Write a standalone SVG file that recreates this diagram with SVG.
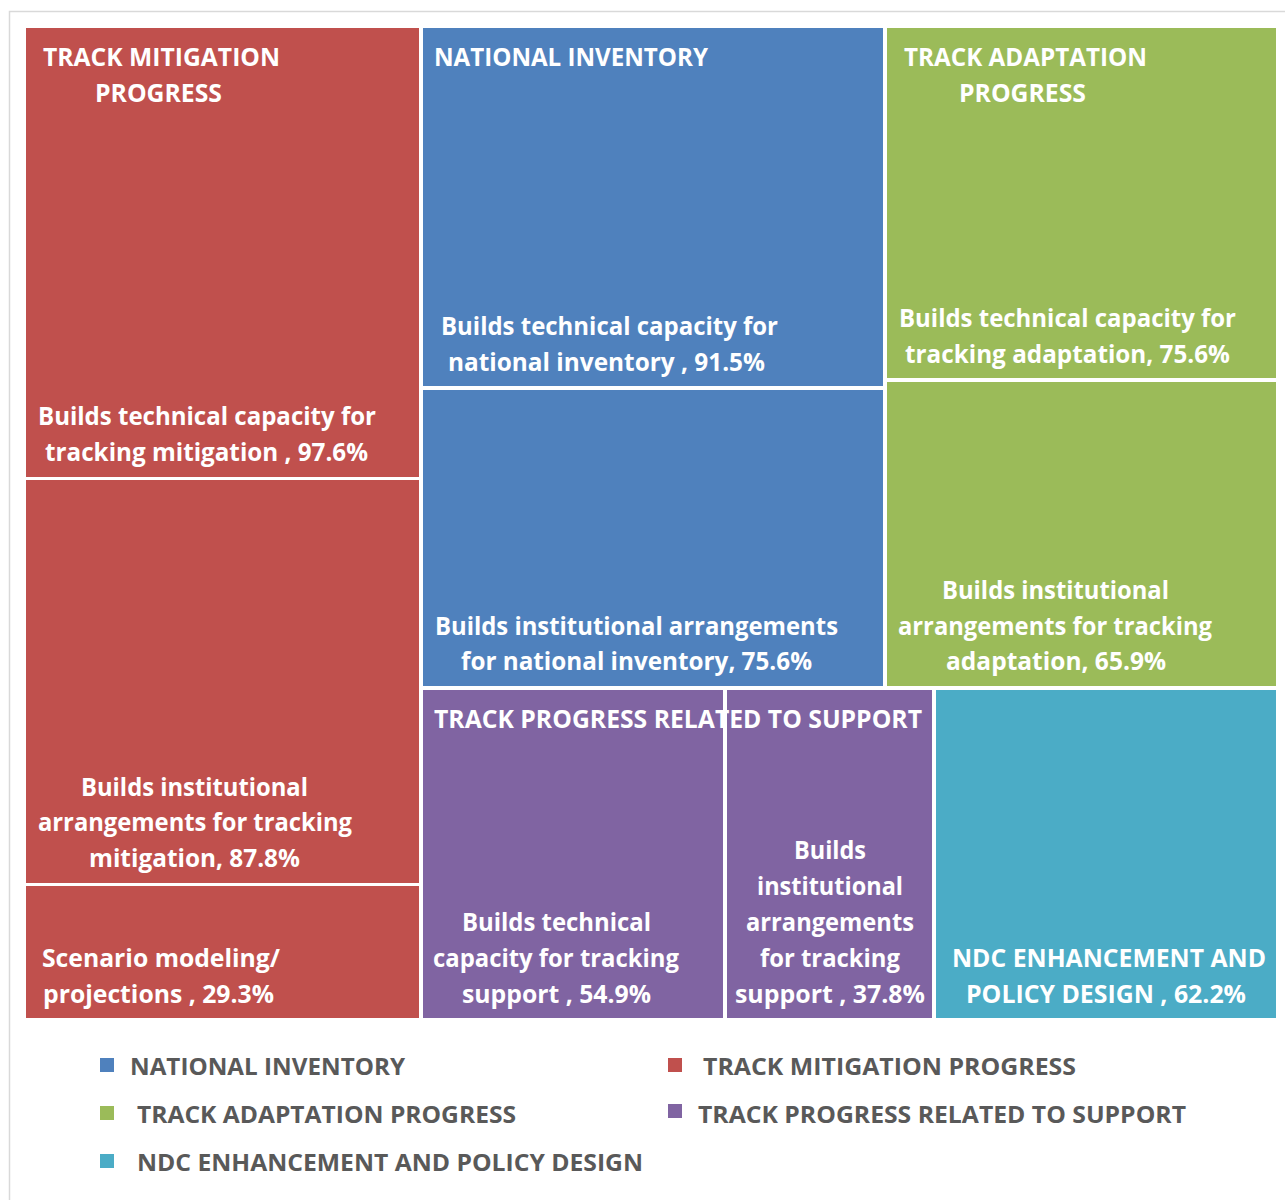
<svg xmlns="http://www.w3.org/2000/svg" width="1285" height="1200" viewBox="0 0 1285 1200">
<style>
.c{font-family:"Open Sans","Liberation Sans",sans-serif;font-weight:700;font-size:25px;fill:#ffffff}
.l{font-family:"Open Sans","Liberation Sans",sans-serif;font-weight:700;font-size:23px;fill:#595959}
.red{fill:#C0504D}.blue{fill:#4F81BD}.green{fill:#9BBB59}.purple{fill:#8064A2}.teal{fill:#4BACC6}
</style>
<rect width="1285" height="1200" fill="#ffffff"/>
<path d="M9.5 1200 V11.5 H1285" fill="none" stroke="#d9d9d9" stroke-width="1.5"/>

<g id="mit-tech">
<rect class="red" x="26" y="28" width="393" height="449"/>
<text class="c" x="43" y="66" textLength="237" lengthAdjust="spacingAndGlyphs">TRACK MITIGATION</text>
<text class="c" x="95" y="102" textLength="127" lengthAdjust="spacingAndGlyphs">PROGRESS</text>
<text class="c" x="38" y="425" textLength="338" lengthAdjust="spacingAndGlyphs">Builds technical capacity for</text>
<text class="c" x="45" y="461" textLength="323" lengthAdjust="spacingAndGlyphs">tracking mitigation , 97.6%</text>
</g>
<g id="mit-inst">
<rect class="red" x="26" y="480" width="393" height="403"/>
<text class="c" x="81" y="796" textLength="227" lengthAdjust="spacingAndGlyphs">Builds institutional</text>
<text class="c" x="38" y="831" textLength="314" lengthAdjust="spacingAndGlyphs">arrangements for tracking</text>
<text class="c" x="89" y="867" textLength="211" lengthAdjust="spacingAndGlyphs">mitigation, 87.8%</text>
</g>
<g id="mit-scen">
<rect class="red" x="26" y="886" width="393" height="132"/>
<text class="c" x="42" y="967" textLength="238" lengthAdjust="spacingAndGlyphs">Scenario modeling/</text>
<text class="c" x="43" y="1003" textLength="231" lengthAdjust="spacingAndGlyphs">projections , 29.3%</text>
</g>

<g id="inv-tech">
<rect class="blue" x="423" y="28" width="460" height="358"/>
<text class="c" x="434" y="66" textLength="274" lengthAdjust="spacingAndGlyphs">NATIONAL INVENTORY</text>
<text class="c" x="441" y="335" textLength="337" lengthAdjust="spacingAndGlyphs">Builds technical capacity for</text>
<text class="c" x="448" y="371" textLength="317" lengthAdjust="spacingAndGlyphs">national inventory , 91.5%</text>
</g>
<g id="inv-inst">
<rect class="blue" x="423" y="390" width="460" height="296"/>
<text class="c" x="435" y="635" textLength="403" lengthAdjust="spacingAndGlyphs">Builds institutional arrangements</text>
<text class="c" x="461" y="670" textLength="351" lengthAdjust="spacingAndGlyphs">for national inventory, 75.6%</text>
</g>

<g id="ada-tech">
<rect class="green" x="887" y="28" width="389" height="350"/>
<text class="c" x="904" y="66" textLength="243" lengthAdjust="spacingAndGlyphs">TRACK ADAPTATION</text>
<text class="c" x="959" y="102" textLength="127" lengthAdjust="spacingAndGlyphs">PROGRESS</text>
<text class="c" x="899" y="327" textLength="337" lengthAdjust="spacingAndGlyphs">Builds technical capacity for</text>
<text class="c" x="905" y="363" textLength="325" lengthAdjust="spacingAndGlyphs">tracking adaptation, 75.6%</text>
</g>
<g id="ada-inst">
<rect class="green" x="887" y="382" width="389" height="304"/>
<text class="c" x="942" y="599" textLength="227" lengthAdjust="spacingAndGlyphs">Builds institutional</text>
<text class="c" x="898" y="635" textLength="314" lengthAdjust="spacingAndGlyphs">arrangements for tracking</text>
<text class="c" x="946" y="670" textLength="220" lengthAdjust="spacingAndGlyphs">adaptation, 65.9%</text>
</g>

<g id="sup-tech">
<rect class="purple" x="423" y="690" width="300" height="328"/>
<text class="c" x="462" y="931" textLength="189" lengthAdjust="spacingAndGlyphs">Builds technical</text>
<text class="c" x="433" y="967" textLength="246" lengthAdjust="spacingAndGlyphs">capacity for tracking</text>
<text class="c" x="462" y="1003" textLength="189" lengthAdjust="spacingAndGlyphs">support , 54.9%</text>
</g>
<g id="sup-inst">
<rect class="purple" x="727" y="690" width="205" height="328"/>
<text class="c" x="794" y="859" textLength="72" lengthAdjust="spacingAndGlyphs">Builds</text>
<text class="c" x="757" y="895" textLength="146" lengthAdjust="spacingAndGlyphs">institutional</text>
<text class="c" x="746" y="931" textLength="168" lengthAdjust="spacingAndGlyphs">arrangements</text>
<text class="c" x="760" y="967" textLength="140" lengthAdjust="spacingAndGlyphs">for tracking</text>
<text class="c" x="735" y="1003" textLength="190" lengthAdjust="spacingAndGlyphs">support , 37.8%</text>
</g>
<g id="sup-header">
<text class="c" x="434" y="728" textLength="488" lengthAdjust="spacingAndGlyphs">TRACK PROGRESS RELATED TO SUPPORT</text>
<line x1="725" y1="690" x2="725" y2="1018" stroke="#ffffff" stroke-width="3"/>
</g>

<g id="ndc">
<rect class="teal" x="936" y="690" width="340" height="328"/>
<text class="c" x="952" y="967" textLength="314" lengthAdjust="spacingAndGlyphs">NDC ENHANCEMENT AND</text>
<text class="c" x="966" y="1003" textLength="280" lengthAdjust="spacingAndGlyphs">POLICY DESIGN , 62.2%</text>
</g>

<g id="legend">
<rect class="blue" x="100" y="1058" width="14" height="14"/>
<text class="l" x="130" y="1075" textLength="275" lengthAdjust="spacingAndGlyphs">NATIONAL INVENTORY</text>
<rect class="red" x="668" y="1058" width="14" height="14"/>
<text class="l" x="703" y="1075" textLength="373" lengthAdjust="spacingAndGlyphs">TRACK MITIGATION PROGRESS</text>
<rect class="green" x="100" y="1106" width="14" height="14"/>
<text class="l" x="137" y="1123" textLength="379" lengthAdjust="spacingAndGlyphs">TRACK ADAPTATION PROGRESS</text>
<rect class="purple" x="668" y="1104" width="14" height="14"/>
<text class="l" x="698" y="1123" textLength="488" lengthAdjust="spacingAndGlyphs">TRACK PROGRESS RELATED TO SUPPORT</text>
<rect class="teal" x="100" y="1154" width="14" height="14"/>
<text class="l" x="137" y="1171" textLength="506" lengthAdjust="spacingAndGlyphs">NDC ENHANCEMENT AND POLICY DESIGN</text>
</g>
</svg>
